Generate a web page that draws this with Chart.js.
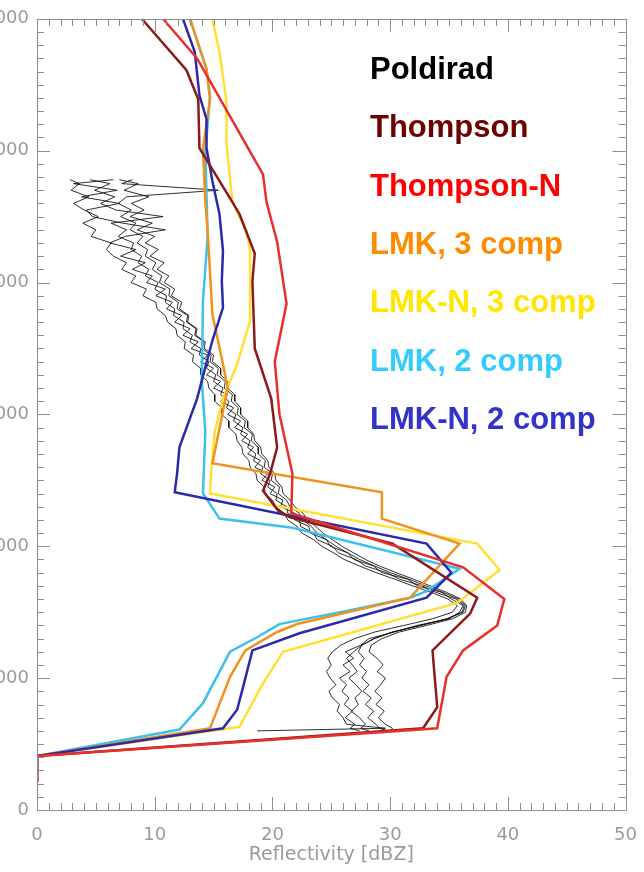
<!DOCTYPE html>
<html>
<head>
<meta charset="utf-8">
<script src="https://cdn.jsdelivr.net/npm/chart.js@4.4.1/dist/chart.umd.min.js"></script>
<style>
  html, body { margin: 0; padding: 0; background: #fff; overflow: hidden; }
  #wrap { position: relative; width: 644px; height: 872px; overflow: hidden; }
  #chart { position: absolute; left: -40px; top: 0; }
  #legend {
    position: absolute; left: 370px; top: 40px;
    font: bold 31px "Liberation Sans", Arial, sans-serif;
    line-height: 58.33px; white-space: nowrap;
  }
</style>
</head>
<body>
<div id="wrap">
  <canvas id="chart" width="692" height="872"></canvas>
  <div id="legend"></div>
</div>
<script>
// series names and colours (legend + lines)
const seriesNames = ['Poldirad', 'Thompson', 'Thompson-N', 'LMK, 3 comp', 'LMK-N, 3 comp', 'LMK, 2 comp', 'LMK-N, 2 comp'];
const legendColors = ['#000000', '#6e0000', '#ff0000', '#ff8c00', '#ffe600', '#33ccff', '#3333cc'];
const lineColors = ['rgba(10,10,10,0.85)', '#8b1a1a', '#e8302a', '#f0921e', '#ffe033', '#3cc0ec', '#2a2aaa'];

// x axis (dBZ) and y axis (height, m) ticks
const xTicks = [0, 10, 20, 30, 40, 50];
const yTicks = [0, 1000, 2000, 3000, 4000, 5000, 6000];

// model profiles: reflectivity (dBZ) against height (m)
const thompsonH = [6000, 5610, 5390, 5020, 4610, 4520, 4220, 4010, 3500, 3120, 2750, 2550, 2420, 2270, 2220, 2020, 1610, 1490, 1210, 780, 620, 410, 210];
const thompsonZ = [8.9, 12.7, 13.7, 13.8, 16.6, 17.2, 18.5, 18.3, 18.5, 19.9, 20.4, 19.8, 19.2, 20.5, 21.5, 30.2, 37.4, 36.8, 33.6, 34.0, 32.8, 0, 0];

const thompsonNH = [6000, 5700, 5260, 4820, 4610, 4310, 3840, 3400, 3000, 2550, 2250, 1840, 1600, 1400, 1210, 1010, 620, 410, 210];
const thompsonNZ = [10.7, 13.6, 16.4, 19.2, 19.5, 20.4, 21.2, 20.2, 20.6, 21.7, 21.6, 36.2, 39.7, 39.1, 36.2, 34.8, 34.0, 0, 0];

const lmk3H = [6000, 5620, 5390, 5020, 4610, 4390, 3760, 3380, 3200, 2630, 2410, 2210, 2020, 1610, 1410, 1350, 1210, 1010, 620, 410, 210];
const lmk3Z = [13.0, 14.4, 14.7, 14.1, 14.3, 14.5, 14.9, 15.8, 16.2, 14.9, 29.3, 29.3, 35.9, 31.7, 22.1, 20.4, 17.7, 16.4, 14.7, 0, 0];

const lmkN3H = [6000, 5750, 5370, 5050, 4610, 4390, 4240, 3710, 3380, 3120, 2870, 2570, 2400, 2020, 1820, 1570, 1200, 960, 630, 410, 210];
const lmkN3Z = [14.9, 15.5, 16.1, 16.1, 16.6, 17.8, 18.1, 18.1, 17.0, 15.8, 15.1, 14.8, 14.7, 37.4, 39.3, 35.7, 20.9, 19.2, 17.2, 0, 0];

const lmk2H = [6000, 5620, 5410, 4990, 4350, 3860, 3250, 2870, 2400, 2210, 2140, 1830, 1660, 1610, 1510, 1410, 1310, 1200, 810, 610, 410, 210];
const lmk2Z = [13.0, 14.4, 14.7, 14.3, 14.5, 14.1, 14.0, 14.3, 14.1, 15.5, 21.7, 35.9, 33.1, 31.7, 26.3, 20.6, 18.7, 16.4, 14.1, 12.1, 0, 0];

const lmkN2H = [6000, 5750, 5420, 5240, 5020, 4770, 4520, 4240, 4010, 3810, 3560, 3120, 2750, 2550, 2410, 2020, 1800, 1610, 1340, 1210, 930, 760, 620, 410, 210];
const lmkN2Z = [12.4, 13.4, 13.8, 14.4, 14.4, 14.9, 15.5, 15.8, 15.7, 15.8, 14.9, 13.6, 12.1, 11.9, 11.7, 33.1, 35.2, 33.1, 22.3, 18.3, 17.5, 17.0, 15.8, 0, 0];

// Poldirad radar profiles (several scans), shared heights
const poldiradH = [
  4780, 4750, 4700, 4650, 4600, 4550, 4500, 4450, 4400, 4350,
  4300, 4250, 4200, 4150, 4100, 4050, 4000, 3950, 3900, 3850,
  3800, 3750, 3700, 3650, 3600, 3550, 3500, 3450, 3400, 3350,
  3300, 3250, 3200, 3150, 3100, 3050, 3000, 2950, 2900, 2850,
  2800, 2750, 2700, 2650, 2600, 2550, 2500, 2450, 2400, 2350,
  2300, 2250, 2200, 2150, 2100, 2050, 2000, 1950, 1900, 1850,
  1800, 1750, 1700, 1650, 1600, 1550, 1500, 1450, 1400, 1350,
  1300, 1250, 1200, 1150, 1100, 1050, 1000, 950, 900, 850,
  800, 750, 700, 650, 620, 600
];
const poldiradA = [
  2.8, 3.6, 2.9, 4.4, 3.1, 4.0, 5.2, 3.9, 5.0, 4.6,
  6.3, 5.9, 6.5, 7.6, 7.2, 8.4, 8.0, 9.3, 9.0, 10.1,
  10.2, 10.9, 11.1, 11.8, 11.9, 12.6, 12.5, 13.3, 13.2, 13.9,
  13.9, 14.5, 14.6, 15.1, 15.1, 15.7, 15.7, 16.3, 16.3, 16.9,
  17.0, 17.4, 17.5, 18.0, 18.1, 18.6, 18.7, 19.3, 19.4, 20.0,
  20.3, 21.0, 21.3, 22.1, 22.5, 23.5, 24.2, 25.2, 26.1, 27.4,
  28.8, 30.4, 31.9, 33.5, 34.9, 35.7, 35.3, 33.6, 31.2, 28.7,
  27.0, 25.8, 25.1, 24.7, 25.0, 24.6, 24.9, 25.4, 24.8, 25.1,
  25.7, 25.5, 26.0, 26.3, 29.6, 18.7
];
const poldiradB = [
  8.1, 7.2, 15.4, 7.6, 6.9, 8.0, 7.1, 8.4, 7.9, 9.0,
  8.5, 9.4, 9.2, 10.1, 9.8, 10.6, 10.4, 11.3, 11.2, 12.0,
  11.9, 12.8, 12.7, 13.5, 13.4, 14.2, 14.0, 14.8, 14.7, 15.4,
  15.3, 16.0, 15.9, 16.6, 16.5, 17.1, 17.0, 17.7, 17.6, 18.3,
  18.2, 18.8, 18.8, 19.4, 19.3, 20.0, 19.9, 20.6, 20.5, 21.2,
  21.5, 22.3, 22.6, 23.3, 23.8, 24.6, 25.4, 26.4, 27.4, 28.7,
  30.0, 31.6, 33.0, 34.5, 35.8, 36.4, 36.2, 34.9, 32.6, 30.2,
  28.7, 27.6, 26.9, 26.3, 26.8, 27.2, 26.5, 27.1, 27.6, 27.0,
  27.3, 26.7, 27.4, 27.9, 27.5, 28.2
];
const poldiradC = [
  4.5, 6.2, 4.9, 6.6, 5.4, 6.7, 10.7, 6.3, 7.6, 6.9,
  8.2, 8.0, 8.9, 8.6, 9.5, 9.2, 10.3, 10.0, 11.0, 10.9,
  11.7, 11.6, 12.5, 12.4, 13.2, 13.0, 13.9, 13.8, 14.6, 14.4,
  15.2, 15.0, 15.8, 15.6, 16.3, 16.1, 16.9, 16.7, 17.5, 17.3,
  18.1, 17.9, 18.6, 18.4, 19.2, 19.0, 19.8, 19.6, 20.4, 20.3,
  21.2, 21.3, 22.3, 22.4, 23.5, 23.8, 25.1, 25.6, 27.1, 27.9,
  29.7, 30.8, 32.7, 33.9, 35.6, 36.3, 36.1, 34.8, 32.6, 30.2,
  28.6, 27.6, 27.3, 27.8, 27.4, 28.0, 27.6, 28.2, 27.7, 28.4,
  27.9, 28.6, 28.1, 28.8, 29.1, 29.8
];
const poldiradD = [
  6.5, 3.1, 6.8, 3.8, 7.0, 4.2, 4.7, 7.3, 10.9, 7.5,
  6.2, 8.4, 7.1, 9.2, 8.1, 9.8, 9.3, 10.9, 10.1, 11.5,
  11.0, 12.3, 11.7, 13.0, 12.4, 13.7, 13.1, 14.5, 13.9, 15.0,
  14.4, 15.6, 15.0, 16.2, 15.6, 16.7, 16.2, 17.3, 16.8, 17.9,
  17.4, 18.4, 17.9, 19.0, 18.5, 19.6, 19.1, 20.2, 19.8, 20.9,
  20.7, 21.9, 21.9, 23.1, 23.2, 24.6, 24.9, 26.4, 26.9, 28.6,
  29.3, 31.5, 32.3, 34.4, 35.2, 36.2, 35.9, 35.0, 32.3, 30.4,
  28.2, 27.5, 26.2, 26.9, 26.0, 26.6, 25.7, 26.3, 25.9, 26.5,
  26.1, 26.8, 26.2, 27.0, 26.6, 27.4
];
const poldiradE = [
  7.0, 8.6, 7.4, 9.5, 8.0, 9.1, 7.9, 9.8, 8.5, 10.0,
  9.2, 10.3, 9.6, 10.8, 10.2, 11.2, 10.8, 11.7, 11.4, 12.3,
  12.1, 12.9, 12.8, 13.6, 13.5, 14.3, 14.2, 15.0, 14.9, 15.6,
  15.6, 16.2, 16.2, 16.8, 16.8, 17.3, 17.3, 17.9, 17.9, 18.4,
  18.5, 19.0, 19.1, 19.6, 19.7, 20.2, 20.3, 20.8, 20.9, 21.5,
  21.9, 22.6, 23.0, 23.7, 24.3, 25.1, 25.9, 26.9, 27.9, 29.1,
  30.5, 32.0, 33.4, 34.8, 36.0, 36.5, 36.4, 35.3, 33.1, 30.8,
  29.3, 28.4, 28.2, 28.9, 29.4, 28.9, 29.6, 29.2, 28.7, 29.3,
  28.8, 29.5, 29.0, 29.6, 30.2, 30.0
];

function toPoints(zs, hs) {
    return zs.map(function(z, i) { return { x: z, y: hs[i] }; });
}

function lineSet(label, zs, hs, color, width) {
    return {
        label: label,
        data: toPoints(zs, hs),
        showLine: true,
        borderColor: color,
        backgroundColor: color,
        borderWidth: width,
        pointRadius: 0,
        tension: 0,
        fill: false
    };
}

// first dataset ends up on top
const datasets = [
    lineSet(seriesNames[2], thompsonNZ, thompsonNH, lineColors[2], 2.5),
    lineSet(seriesNames[1], thompsonZ, thompsonH, lineColors[1], 2.5),
    lineSet(seriesNames[6], lmkN2Z, lmkN2H, lineColors[6], 2.5),
    lineSet(seriesNames[3], lmk3Z, lmk3H, lineColors[3], 2.5),
    lineSet(seriesNames[5], lmk2Z, lmk2H, lineColors[5], 2.5),
    lineSet(seriesNames[4], lmkN3Z, lmkN3H, lineColors[4], 2.5),
    lineSet(seriesNames[0], poldiradA, poldiradH, lineColors[0], 1),
    lineSet(seriesNames[0], poldiradB, poldiradH, lineColors[0], 1),
    lineSet(seriesNames[0], poldiradC, poldiradH, lineColors[0], 1),
    lineSet(seriesNames[0], poldiradD, poldiradH, lineColors[0], 1),
    lineSet(seriesNames[0], poldiradE, poldiradH, lineColors[0], 1)
];

// IDL-style box with inward ticks on all four sides
const frameTicks = {
    id: 'frameTicks',
    afterDatasetsDraw: function(chart) {
        const ctx = chart.ctx;
        const a = chart.chartArea;
        const xs = chart.scales.x, ys = chart.scales.y;
        ctx.save();
        ctx.strokeStyle = '#8e8e8e';
        ctx.lineWidth = 1;
        ctx.beginPath();
        ctx.rect(Math.round(a.left) + 0.5, Math.round(a.top) + 0.5,
                 Math.round(a.right - a.left), Math.round(a.bottom - a.top));
        for (let v = xTicks[0]; v <= xTicks[xTicks.length - 1]; v += 1) {
            const px = Math.round(xs.getPixelForValue(v)) + 0.5;
            const len = (v % 10 === 0) ? 13 : 7;
            ctx.moveTo(px, a.bottom); ctx.lineTo(px, a.bottom - len);
            ctx.moveTo(px, a.top); ctx.lineTo(px, a.top + len);
        }
        for (let h = yTicks[0]; h <= yTicks[yTicks.length - 1]; h += 100) {
            const py = Math.round(ys.getPixelForValue(h)) + 0.5;
            const len = (h % 1000 === 0) ? 13 : 7;
            ctx.moveTo(a.left, py); ctx.lineTo(a.left + len, py);
            ctx.moveTo(a.right, py); ctx.lineTo(a.right - len, py);
        }
        ctx.stroke();
        ctx.restore();
    }
};

document.addEventListener('DOMContentLoaded', function() {
    // legend as plain text at the right
    const legend = document.getElementById('legend');
    seriesNames.forEach(function(name, i) {
        const d = document.createElement('div');
        d.textContent = name;
        d.style.color = legendColors[i];
        legend.appendChild(d);
    });

    const ctx = document.getElementById('chart').getContext('2d');
    new Chart(ctx, {
        type: 'scatter',
        data: { datasets: datasets },
        options: {
            responsive: false,
            animation: false,
            layout: { padding: { top: 17, right: 0, left: 0, bottom: 0 } },
            plugins: {
                legend: { display: false },
                tooltip: { enabled: false }
            },
            scales: {
                x: {
                    type: 'linear',
                    min: xTicks[0],
                    max: xTicks[xTicks.length - 1],
                    grid: { display: false, drawTicks: false },
                    border: { display: false },
                    afterBuildTicks: function(s) { s.ticks = xTicks.map(function(v) { return { value: v }; }); },
                    ticks: {
                        padding: 15,
                        color: '#9a9a9a',
                        font: { family: 'DejaVu Sans', size: 18 },
                        maxRotation: 0
                    },
                    title: {
                        display: true,
                        text: 'Reflectivity [dBZ]',
                        color: '#9a9a9a',
                        font: { family: 'DejaVu Sans', size: 19 },
                        padding: { top: 0, bottom: 6 }
                    },
                    afterFit: function(s) { s.height = 62; }
                },
                y: {
                    type: 'linear',
                    min: yTicks[0],
                    max: yTicks[yTicks.length - 1],
                    grid: { display: false, drawTicks: false },
                    border: { display: false },
                    afterBuildTicks: function(s) { s.ticks = yTicks.map(function(v) { return { value: v }; }); },
                    ticks: {
                        padding: 8,
                        color: '#9a9a9a',
                        font: { family: 'DejaVu Sans', size: 18 },
                        callback: function(v) { return String(v); }
                    },
                    afterFit: function(s) { s.width = 77; }
                }
            }
        },
        plugins: [frameTicks]
    });
});
</script>
</body>
</html>
